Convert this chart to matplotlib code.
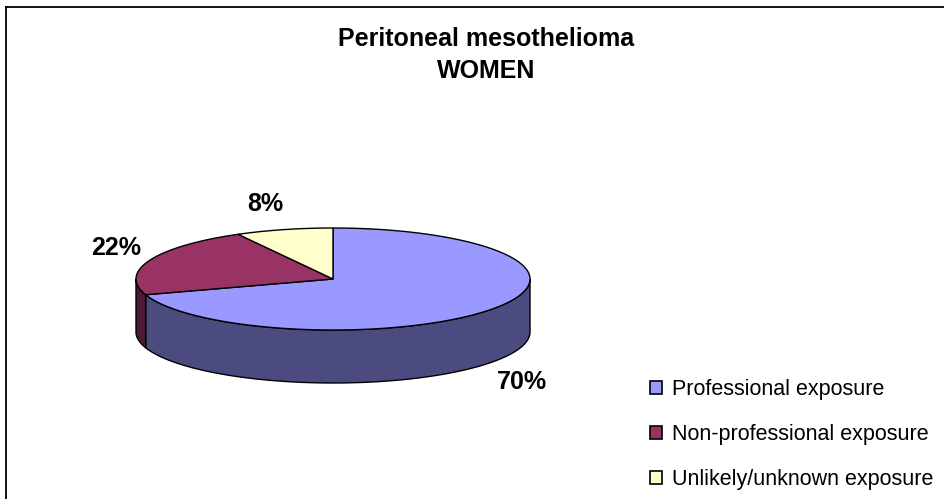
import numpy as np
import matplotlib
matplotlib.use("Agg")
import matplotlib.pyplot as plt
from matplotlib.patches import Polygon, Patch

# ---- data ----
categories = ["Professional exposure", "Non-professional exposure", "Unlikely/unknown exposure"]
values = [70, 22, 8]
top_colors = ["#9999FF", "#993366", "#FFFFCC"]
side_colors = ["#4B4B80", "#4D1A33", "#80806A"]
title_lines = ["Peritoneal mesothelioma", "WOMEN"]

plt.rcParams['font.family'] = ['Liberation Sans', 'DejaVu Sans']

W, H = 944, 499
fig = plt.figure(figsize=(W / 100, H / 100), dpi=100)
ax = fig.add_axes([0, 0, 1, 1])
ax.set_xlim(0, W)
ax.set_ylim(H, 0)
ax.axis('off')

# frame lines (top and left)
ax.plot([6, W], [7, 7], color='black', lw=1.3)
ax.plot([6, 6], [7, H], color='black', lw=1.3)

# pie geometry (layout)
cx, cy, a, b, depth = 333, 279, 197, 51, 53

total = float(sum(values))
start = 90.0
spans = []
for v in values:
    end = start - 360.0 * v / total
    spans.append((end, start))
    start = end

# side faces (front half: angles 180..360)
for (t0, t1), sc in zip(spans, side_colors):
    for shift in (0, 360, -360):
        lo, hi = t0 + shift, t1 + shift
        s_lo, s_hi = max(lo, 180), min(hi, 360)
        if s_hi > s_lo:
            ts = np.linspace(s_lo, s_hi, 200)
            xs = cx + a * np.cos(np.deg2rad(ts))
            ys = cy - b * np.sin(np.deg2rad(ts))
            poly = np.concatenate([np.column_stack([xs, ys]),
                                   np.column_stack([xs[::-1], ys[::-1] + depth])])
            ax.add_patch(Polygon(poly, closed=True, facecolor=sc,
                                 edgecolor='black', lw=1.0, zorder=1))

# top faces
for (t0, t1), tc in zip(spans, top_colors):
    ts = np.linspace(t0, t1, 300)
    xs = cx + a * np.cos(np.deg2rad(ts))
    ys = cy - b * np.sin(np.deg2rad(ts))
    poly = np.vstack([[cx, cy], np.column_stack([xs, ys])])
    ax.add_patch(Polygon(poly, closed=True, facecolor=tc,
                         edgecolor='black', lw=1.0, zorder=2))

# data labels
label_pos = [(522, 382), (116, 248), (265, 204)]
for v, (lx, ly) in zip(values, label_pos):
    ax.text(lx, ly, f"{v}%", ha='center', va='center', fontsize=18,
            fontweight='bold', color='black', zorder=3)

# title
ax.text(486, 39, title_lines[0], ha='center', va='center', fontsize=18, fontweight='bold')
ax.text(486, 71, title_lines[1], ha='center', va='center', fontsize=18, fontweight='bold')

# legend
handles = [Patch(facecolor=c, edgecolor='black', lw=1.2) for c in top_colors]
fig.legend(handles, categories, loc='upper left',
           bbox_to_anchor=(650 / W, 1 - 379 / H), frameon=False,
           fontsize=15.5, handlelength=0.56, handleheight=0.56, handletextpad=0.47,
           labelspacing=1.12, borderpad=0, borderaxespad=0)

fig.savefig("out.png", dpi=100)
